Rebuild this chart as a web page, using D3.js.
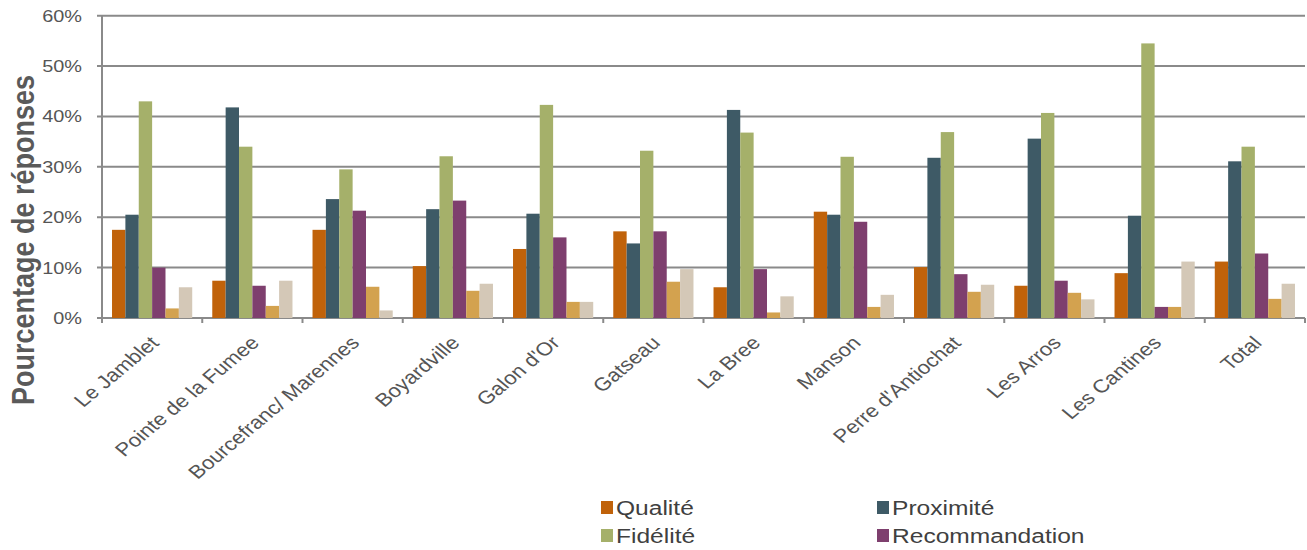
<!DOCTYPE html>
<html>
<head>
<meta charset="utf-8">
<script src="https://cdn.jsdelivr.net/npm/d3@7"></script>
<style>
  body { margin: 0; background: #fff; }
  svg { display: block; font-family: "Liberation Sans", Arial, sans-serif; }
</style>
</head>
<body>
<svg id="chart" width="1307" height="550"></svg>
<script>
var categories = ["Le Jamblet", "Pointe de la Fumee", "Bourcefranc/ Marennes", "Boyardville", "Galon d'Or",
  "Gatseau", "La Bree", "Manson", "Perre d'Antiochat", "Les Arros", "Les Cantines", "Total"];
var seriesNames = ["Qualité", "Proximité", "Fidélité", "Recommandation", "Prix", "Autre"];
var qualite        = [17.5, 7.4, 17.5, 10.3, 13.7, 17.2, 6.1, 21.1, 10.1, 6.4, 8.9, 11.2];
var proximite      = [20.5, 41.8, 23.6, 21.6, 20.7, 14.8, 41.3, 20.5, 31.8, 35.6, 20.3, 31.1];
var fidelite       = [43.0, 34.0, 29.5, 32.1, 42.3, 33.2, 36.8, 32.0, 36.9, 40.7, 54.5, 34.0];
var recommandation = [10.0, 6.4, 21.3, 23.3, 16.0, 17.2, 9.7, 19.1, 8.7, 7.4, 2.2, 12.8];
var prix           = [1.9, 2.4, 6.2, 5.4, 3.2, 7.2, 1.1, 2.2, 5.2, 5.0, 2.2, 3.8];
var autre          = [6.1, 7.4, 1.5, 6.8, 3.2, 9.7, 4.3, 4.6, 6.6, 3.7, 11.2, 6.8];
var yTicks = [0, 10, 20, 30, 40, 50, 60];

var colors = ["#c0620a", "#3e5a66", "#a5b06a", "#7e3f6e", "#d3a24f", "#d4c8b7"];
var allSeries = [qualite, proximite, fidelite, recommandation, prix, autre];

var data = categories.map(function(c, i) {
  return { cat: c, values: allSeries.map(function(s, j) { return { key: seriesNames[j], v: s[i] }; }) };
});

var svg = d3.select("#chart");
var plotLeft = 102, plotRight = 1305, plotTop = 15.7, plotBottom = 318;
var sx = 1.17; // the original picture is a bit wider than tall, text looks stretched

var x0 = d3.scaleBand().domain(categories).range([plotLeft, plotRight]).paddingInner(0.2).paddingOuter(0.1);
var x1 = d3.scaleBand().domain(seriesNames).range([0, x0.bandwidth()]);
var y = d3.scaleLinear().domain([0, 60]).range([plotBottom, plotTop]);
var step = x0.step();

// gridlines
svg.append("g").selectAll("line").data(yTicks).enter().append("line")
  .attr("x1", plotLeft - 5).attr("x2", plotRight)
  .attr("y1", function(d) { return y(d); }).attr("y2", function(d) { return y(d); })
  .attr("stroke", "#8a8a8a").attr("stroke-width", 2);

// y axis labels
svg.append("g").selectAll("text").data(yTicks).enter().append("text")
  .attr("transform", function(d) { return "translate(82," + (y(d) + 6) + ") scale(" + sx + ",1)"; })
  .attr("text-anchor", "end").attr("font-size", 17).attr("fill", "#555")
  .text(function(d) { return d + "%"; });

svg.append("line").attr("x1", plotLeft).attr("x2", plotLeft).attr("y1", plotTop).attr("y2", plotBottom)
  .attr("stroke", "#8a8a8a").attr("stroke-width", 2);

// bottom ticks at category boundaries
var bounds = d3.range(categories.length + 1).map(function(i) { return plotLeft + i * step; });
svg.append("g").selectAll("line").data(bounds).enter().append("line")
  .attr("x1", function(d) { return d; }).attr("x2", function(d) { return d; })
  .attr("y1", plotBottom).attr("y2", plotBottom + 5)
  .attr("stroke", "#8a8a8a").attr("stroke-width", 2);

// bars
var groups = svg.append("g").selectAll("g").data(data).enter().append("g")
  .attr("transform", function(d) { return "translate(" + x0(d.cat) + ",0)"; });
groups.selectAll("rect").data(function(d) { return d.values; }).enter().append("rect")
  .attr("x", function(d) { return x1(d.key); })
  .attr("y", function(d) { return y(d.v); })
  .attr("width", x1.bandwidth())
  .attr("height", function(d) { return plotBottom - y(d.v); })
  .attr("fill", function(d, i) { return colors[i]; });

// category labels
svg.append("g").selectAll("text").data(categories).enter().append("text")
  .attr("transform", function(d) {
    return "translate(" + (x0(d) + x0.bandwidth() / 2 + 8) + ",344) scale(1.2,1) rotate(-45)";
  })
  .attr("text-anchor", "end").attr("font-size", 18.5).attr("fill", "#555")
  .text(function(d) { return d; });

// y title
svg.append("text")
  .attr("transform", "translate(34,240) scale(" + sx + ",1) rotate(-90)")
  .attr("text-anchor", "middle").attr("font-size", 27).attr("font-weight", "bold").attr("fill", "#5a5a5a")
  .text("Pourcentage de réponses");

// legend (2 columns, third row falls outside picture)
var legend = svg.append("g").selectAll("g").data(seriesNames).enter().append("g")
  .attr("transform", function(d, i) { return "translate(" + (i % 2 === 0 ? 601 : 877) + "," + (515 + Math.floor(i / 2) * 28) + ")"; });
legend.append("rect").attr("x", 0).attr("y", -14).attr("width", 12).attr("height", 13)
  .attr("fill", function(d, i) { return colors[i]; });
legend.append("text").attr("transform", "translate(15,0) scale(" + sx + ",1)")
  .attr("font-size", 21).attr("fill", "#404040")
  .text(function(d) { return d; });
</script>
</body>
</html>
